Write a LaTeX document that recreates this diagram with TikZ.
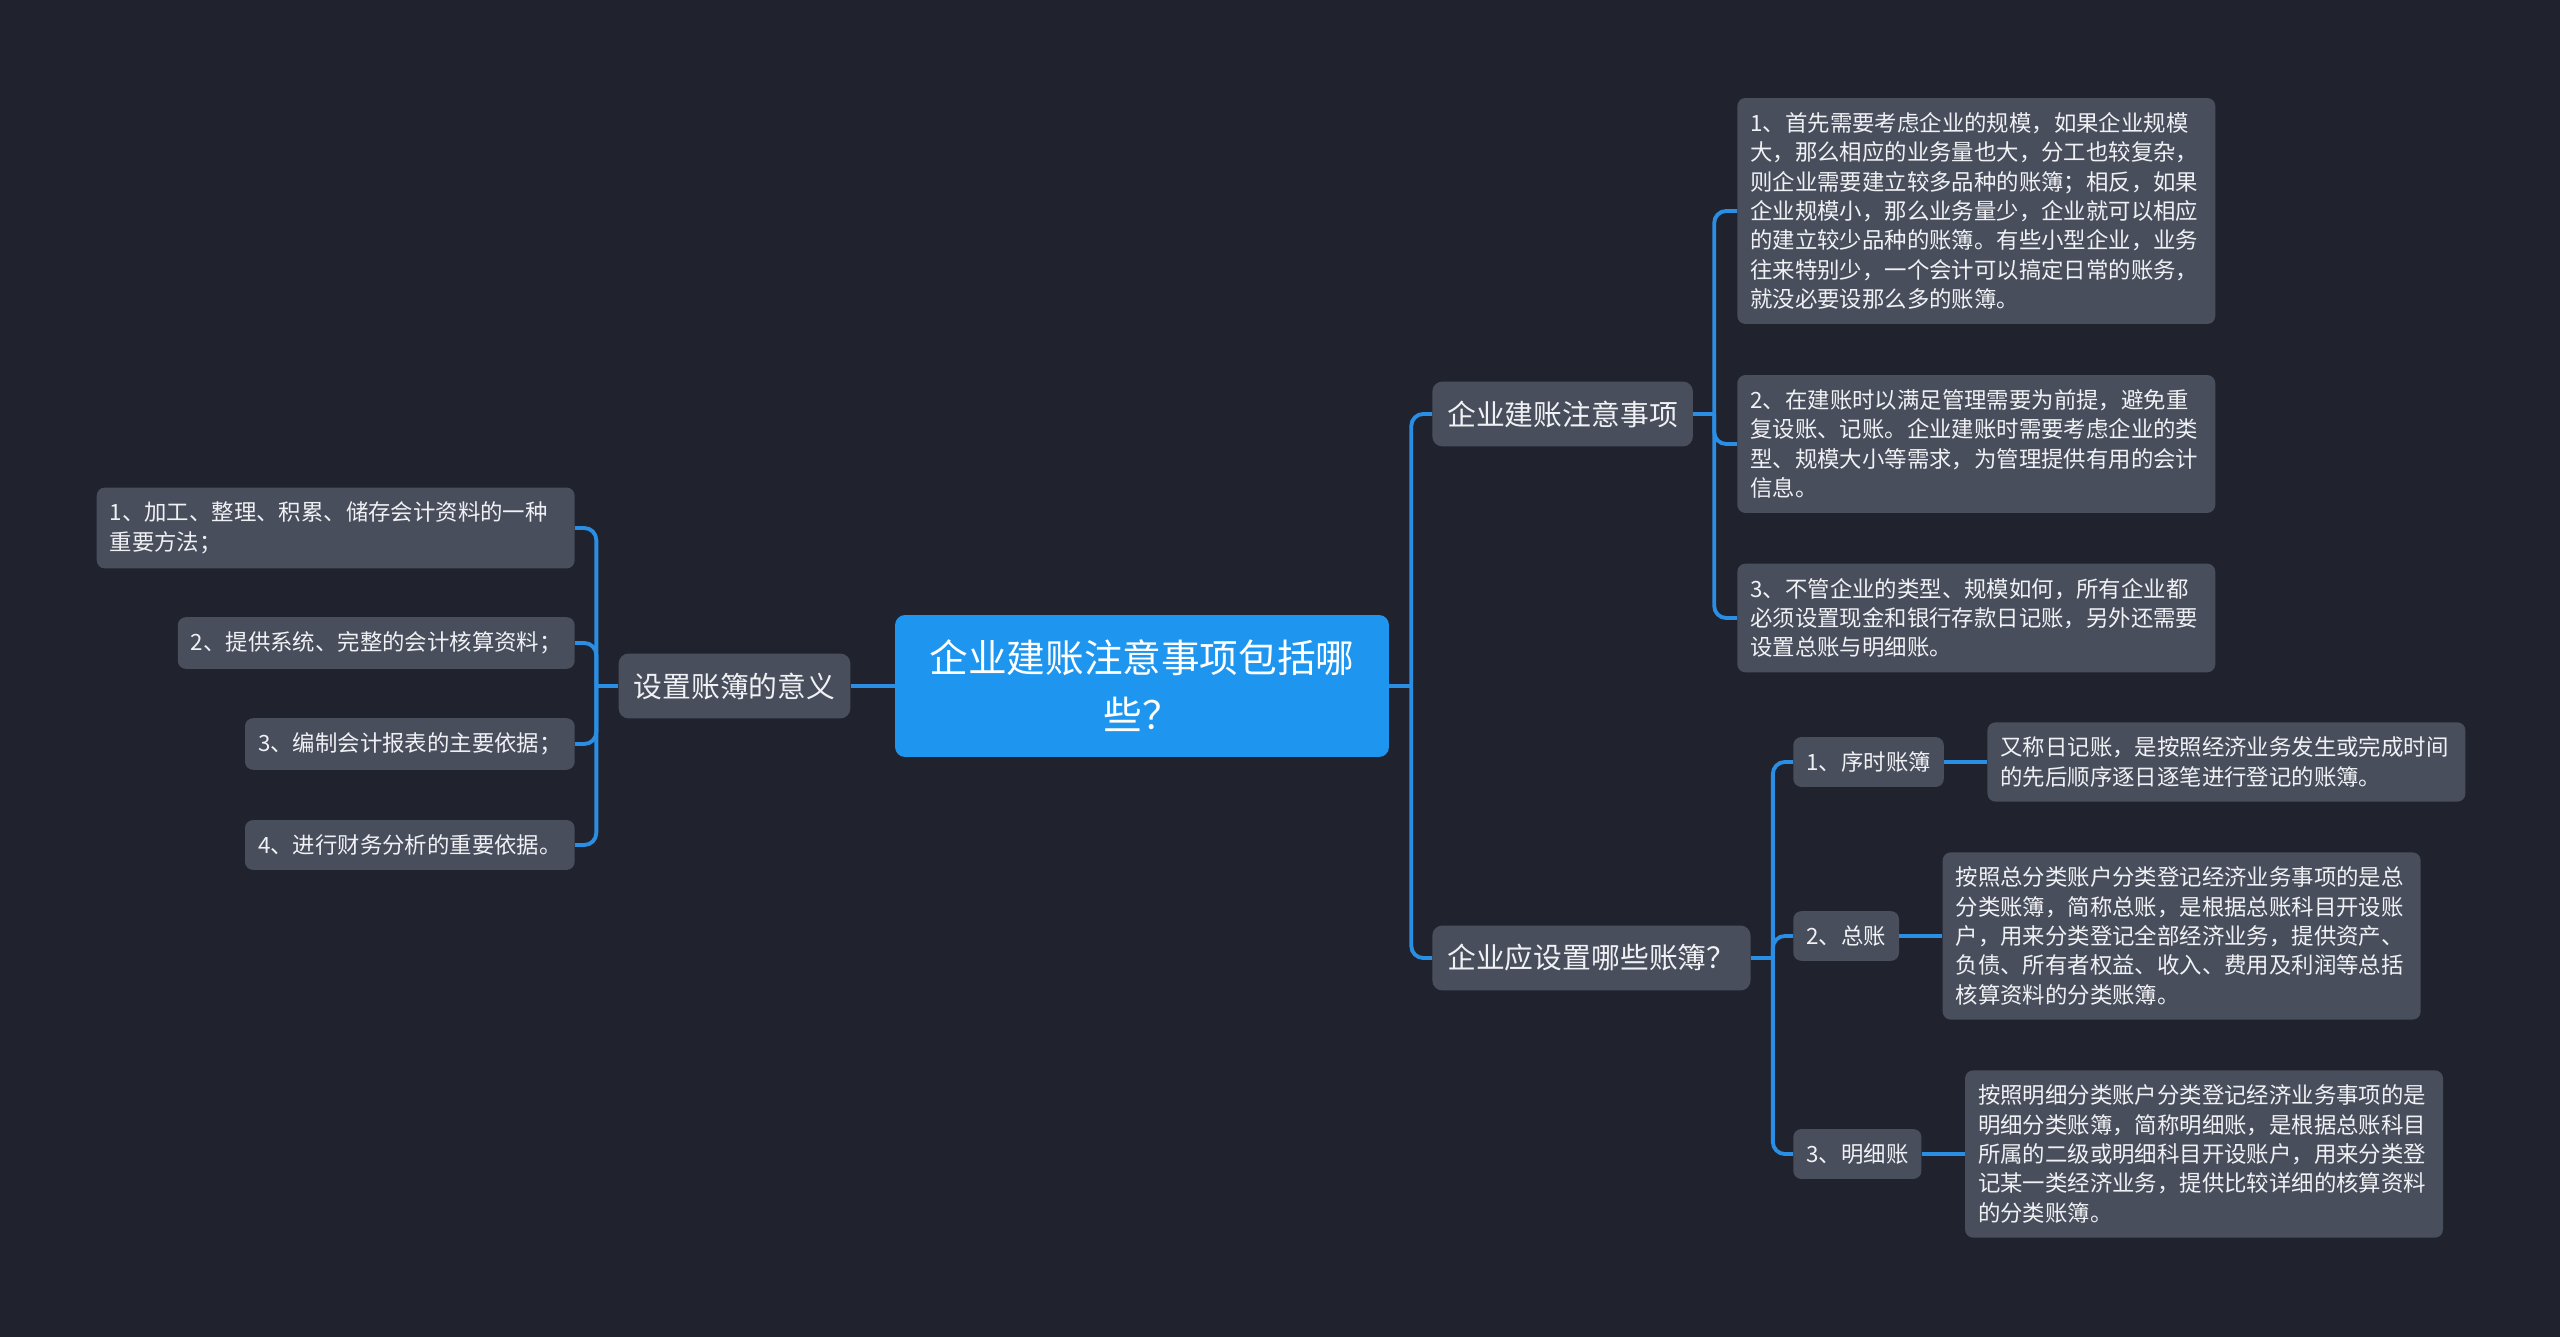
\documentclass[tikz,border=0pt]{standalone}
\usepackage{fontspec}
\setmainfont{Noto Sans CJK SC}
\usepackage{tikz}
\usetikzlibrary{positioning}
\definecolor{bgdark}{RGB}{32,35,46}
\definecolor{boxgrey}{RGB}{73,78,92}
\definecolor{rootblue}{RGB}{30,150,240}
\definecolor{linkblue}{RGB}{42,142,228}
\definecolor{txt}{RGB}{240,241,244}
\tikzstyle{link} = [line width=2.2pt, draw=linkblue]
\tikzstyle{branch} = [link, rounded corners=0.24cm]
\tikzstyle{rootbox} = [rectangle, rounded corners=0.2cm, fill=rootblue, text=white, minimum width=9.88cm, minimum height=2.84cm, text width=9.28cm, align=center, font=\fontsize{22pt}{32.3pt}\selectfont]
\tikzstyle{topic} = [rectangle, rounded corners=0.2cm, fill=boxgrey, text=txt, inner xsep=0.3cm, inner ysep=0.38cm, font=\fontsize{16.4pt}{20pt}\selectfont]
\tikzset{
	note/.style = {rectangle, rounded corners=0.16cm, fill=boxgrey, text=txt,
		inner xsep=0.26cm, inner ysep=0.29cm, align=left,
		font=\fontsize{12.75pt}{16.7pt}\selectfont},
	longnote/.style = {note, text width=9.04cm}
}

\begin{document}
\begin{tikzpicture}[x=0.02cm, y=-0.02cm]
\fill [bgdark] (0,0) rectangle (2560,1337);
\useasboundingbox (0,0) rectangle (2560,1337);
%----------------------------------------------------------------------------
% Centre and first level
\node (root) [rootbox] at (1142,686) {企业建账注意事项包括哪\\些？};
\node (meaning) [topic, left=0.88cm of root] {设置账簿的意义};
\node (caution) [topic, anchor=west] at (1432,414) {企业建账注意事项};
\node (books) [topic, anchor=west] at (1432,958) {企业应设置哪些账簿？};

%----------------------------------------------------------------------------
% Left notes
\node (m1) [longnote, anchor=east] at (575,528) {1、加工、整理、积累、储存会计资料的一种\\重要方法；};
\node (m2) [note, anchor=east] at (575,643) {2、提供系统、完整的会计核算资料；};
\node (m3) [note, anchor=east] at (575,744) {3、编制会计报表的主要依据；};
\node (m4) [note, anchor=east] at (575,845) {4、进行财务分析的重要依据。};

%----------------------------------------------------------------------------
% Right notes
\node (c1) [longnote, anchor=west] at (1737,211) {1、首先需要考虑企业的规模，如果企业规模\\大，那么相应的业务量也大，分工也较复杂，\\则企业需要建立较多品种的账簿；相反，如果\\企业规模小，那么业务量少，企业就可以相应\\的建立较少品种的账簿。有些小型企业，业务\\往来特别少，一个会计可以搞定日常的账务，\\就没必要设那么多的账簿。};
\node (c2) [longnote, anchor=west] at (1737,444) {2、在建账时以满足管理需要为前提，避免重\\复设账、记账。企业建账时需要考虑企业的类\\型、规模大小等需求，为管理提供有用的会计\\信息。};
\node (c3) [longnote, anchor=west] at (1737,618) {3、不管企业的类型、规模如何，所有企业都\\必须设置现金和银行存款日记账，另外还需要\\设置总账与明细账。};

\node (b1) [note, anchor=west] at (1793,762) {1、序时账簿};
\node (b2) [note, anchor=west] at (1793,936) {2、总账};
\node (b3) [note, anchor=west] at (1793,1154) {3、明细账};
\node (d1) [longnote, right=0.86cm of b1] {又称日记账，是按照经济业务发生或完成时间\\的先后顺序逐日逐笔进行登记的账簿。};
\node (d2) [longnote, right=0.86cm of b2] {按照总分类账户分类登记经济业务事项的是总\\分类账簿，简称总账，是根据总账科目开设账\\户，用来分类登记全部经济业务，提供资产、\\负债、所有者权益、收入、费用及利润等总括\\核算资料的分类账簿。};
\node (d3) [longnote, right=0.86cm of b3] {按照明细分类账户分类登记经济业务事项的是\\明细分类账簿，简称明细账，是根据总账科目\\所属的二级或明细科目开设账户，用来分类登\\记某一类经济业务，提供比较详细的核算资料\\的分类账簿。};

%----------------------------------------------------------------------------
% Draw lines
\coordinate (jroot) at ([xshift=0.44cm]root.east);
\coordinate (jmeaning) at ([xshift=-0.44cm]meaning.west);
\coordinate (jcaution) at ([xshift=0.42cm]caution.east);
\coordinate (jbooks) at ([xshift=0.44cm]books.east);

\draw [link] (root.west) -- (meaning.east);
\draw [link] (root.east) -- (jroot);
\draw [branch] (jroot) |- (caution.west);
\draw [branch] (jroot) |- (books.west);

\draw [link] (meaning.west) -- (jmeaning);
\foreach \n in {m1,m2,m3,m4} \draw [branch] (jmeaning) |- (\n.east);

\draw [link] (caution.east) -- (jcaution);
\foreach \n in {c1,c2,c3} \draw [branch] (jcaution) |- (\n.west);

\draw [link] (books.east) -- (jbooks);
\foreach \n in {b1,b2,b3} \draw [branch] (jbooks) |- (\n.west);
\draw [link] (b1.east) -- (d1.west);
\draw [link] (b2.east) -- (d2.west);
\draw [link] (b3.east) -- (d3.west);

\end{tikzpicture}
\end{document}
